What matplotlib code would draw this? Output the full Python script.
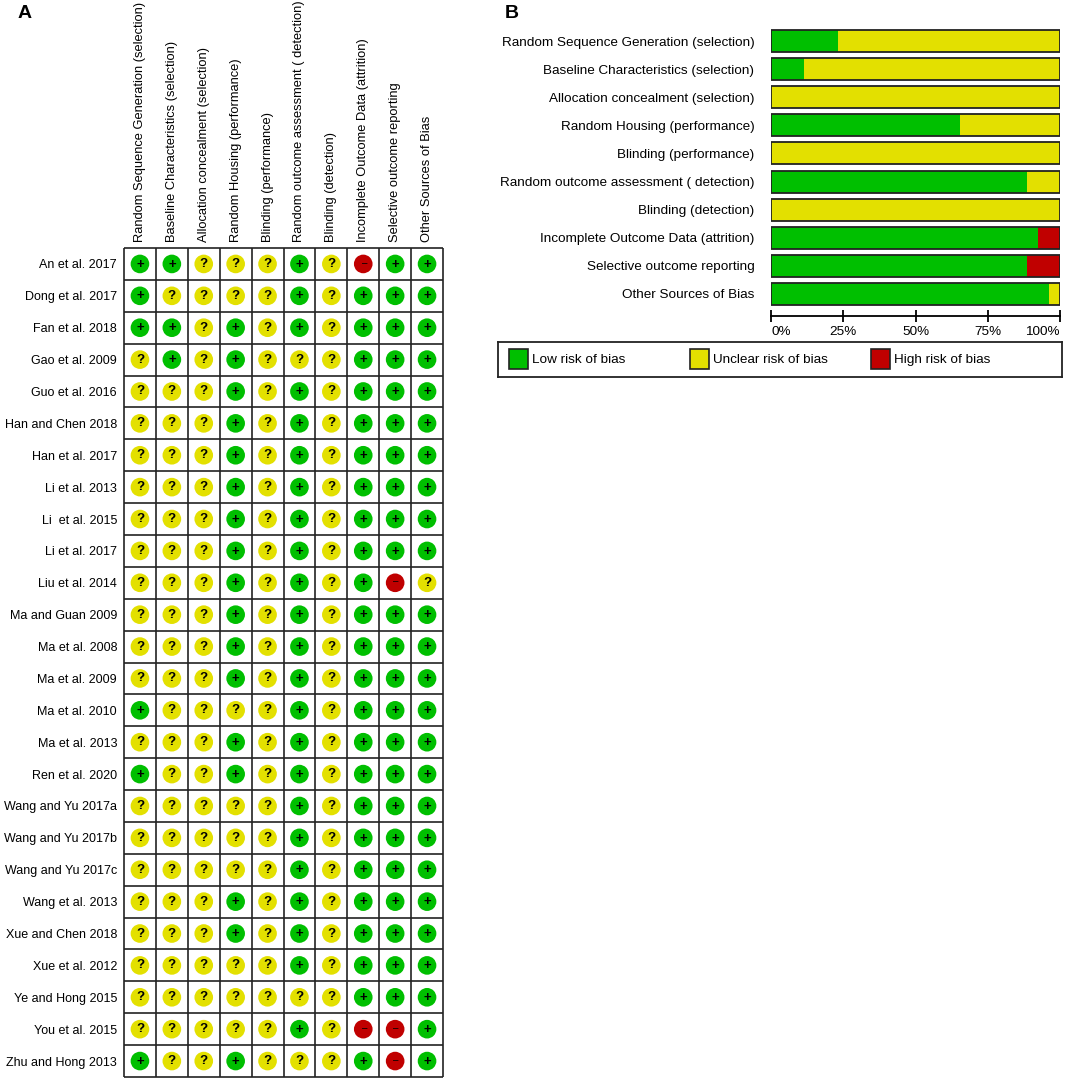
import numpy as np
import matplotlib.pyplot as plt
from matplotlib.patches import Rectangle

plt.rcParams['font.family'] = ['Liberation Sans', 'DejaVu Sans']

# risk of bias domains (columns of panel A, rows of panel B)
domains = [
    'Random Sequence Generation (selection)',
    'Baseline Characteristics (selection)',
    'Allocation concealment (selection)',
    'Random Housing (performance)',
    'Blinding (performance)',
    'Random outcome assessment ( detection)',
    'Blinding (detection)',
    'Incomplete Outcome Data (attrition)',
    'Selective outcome reporting',
    'Other Sources of Bias',
]

studies = [
    'An et al. 2017', 'Dong et al. 2017', 'Fan et al. 2018', 'Gao et al. 2009',
    'Guo et al. 2016', 'Han and Chen 2018', 'Han et al. 2017', 'Li et al. 2013',
    'Li  et al. 2015', 'Li et al. 2017', 'Liu et al. 2014', 'Ma and Guan 2009',
    'Ma et al. 2008', 'Ma et al. 2009', 'Ma et al. 2010', 'Ma et al. 2013',
    'Ren et al. 2020', 'Wang and Yu 2017a', 'Wang and Yu 2017b',
    'Wang and Yu 2017c', 'Wang et al. 2013', 'Xue and Chen 2018',
    'Xue et al. 2012', 'Ye and Hong 2015', 'You et al. 2015', 'Zhu and Hong 2013',
]

# one string per study, one char per domain: + low, ? unclear, - high
ratings = [
    '++???+?-++', '+????+?+++', '++?+?+?+++', '?+?+???+++',
    '???+?+?+++', '???+?+?+++', '???+?+?+++', '???+?+?+++',
    '???+?+?+++', '???+?+?+++', '???+?+?+-?', '???+?+?+++',
    '???+?+?+++', '???+?+?+++', '+????+?+++', '???+?+?+++',
    '+??+?+?+++', '?????+?+++', '?????+?+++', '?????+?+++',
    '???+?+?+++', '???+?+?+++', '?????+?+++', '???????+++',
    '?????+?--+', '+??+???+-+',
]

legend_labels = ['Low risk of bias', 'Unclear risk of bias', 'High risk of bias']

GREEN = '#00bf00'
YELLOW = '#e3e000'
RED = '#c00000'
colors = {'+': GREEN, '?': YELLOW, '-': RED}
LINE = '#222222'

W, H = 1065, 1080
fig = plt.figure(figsize=(W / 100, H / 100), dpi=100)


def px(x0, y0, x1, y1):
    return [x0 / W, 1 - y1 / H, (x1 - x0) / W, (y1 - y0) / H]


# ---- panel A: traffic light grid ----
n_s, n_d = len(studies), len(domains)
ax = fig.add_axes(px(124, 248, 443, 1077))
ax.set_xlim(0, n_d)
ax.set_ylim(n_s, 0)
for s in ax.spines.values():
    s.set_visible(False)
ax.vlines(np.arange(n_d + 1), 0, n_s, color=LINE, lw=1.2, clip_on=False)
ax.hlines(np.arange(n_s + 1), 0, n_d, color=LINE, lw=1.2, clip_on=False)

grid = np.array([list(r) for r in ratings])
for sym, col in colors.items():
    yy, xx = np.where(grid == sym)
    ax.scatter(xx + 0.5, yy + 0.5, s=180, c=col, edgecolors='none', zorder=3)
    for x, y in zip(xx, yy):
        if sym == '+':
            ax.text(x + 0.5, y + 0.52, '+', ha='center', va='center',
                    fontsize=9.5, fontweight='bold', zorder=4)
        elif sym == '?':
            ax.text(x + 0.5, y + 0.5, '?', ha='center', va='center',
                    fontsize=9.5, fontweight='bold', zorder=4)
        else:
            ax.text(x + 0.53, y + 0.46, '\u2013', ha='center', va='center',
                    fontsize=7, color='black', zorder=4)

ax.set_yticks(np.arange(n_s) + 0.5, studies, fontsize=9)
ax.set_xticks([])
ax.tick_params(axis='y', length=0, pad=5)
for i, d in enumerate(domains):
    ax.text(i + 0.5, -0.2, d, rotation=90, ha='center', va='bottom', fontsize=9.3)

# ---- panel B: summary bars ----
low = (grid == '+').mean(axis=0)
unclear = (grid == '?').mean(axis=0)
high = (grid == '-').mean(axis=0)

axb = fig.add_axes(px(771, 27, 1060, 308))
yb = np.arange(n_d)
hb = 0.78
axb.barh(yb, low, height=hb, color=GREEN, lw=0)
axb.barh(yb, unclear, left=low, height=hb, color=YELLOW, lw=0)
axb.barh(yb, high, left=low + unclear, height=hb, color=RED, lw=0)
axb.barh(yb, np.ones(n_d), height=hb, facecolor='none', edgecolor=LINE, lw=1.3)
axb.set_xlim(0, 1)
axb.set_ylim(n_d - 0.5, -0.5)
axb.set_yticks(yb, domains, fontsize=9.7)
axb.tick_params(axis='y', length=0, pad=12)
for k in ['top', 'right', 'left']:
    axb.spines[k].set_visible(False)
axb.spines['bottom'].set_position(('outward', 6))
axb.spines['bottom'].set_linewidth(1.3)
axb.set_xticks([0, 0.25, 0.5, 0.75, 1], ['0%', '25%', '50%', '75%', '100%'], fontsize=9.7)
axb.tick_params(axis='x', direction='inout', length=8, width=1.3, pad=3)
xt = axb.get_xticklabels()
xt[0].set_ha('left')
xt[-1].set_ha('right')

# legend box
axl = fig.add_axes(px(498, 342, 1062, 377))
axl.set_xlim(0, 564)
axl.set_ylim(35, 0)
axl.set_xticks([])
axl.set_yticks([])
for s in axl.spines.values():
    s.set_linewidth(1.3)
    s.set_color(LINE)
for i, (lab, col) in enumerate(zip(legend_labels, [GREEN, YELLOW, RED])):
    x0 = 11 + 181 * i
    axl.add_patch(Rectangle((x0, 7), 19, 20, facecolor=col, edgecolor=LINE, lw=1.2))
    axl.text(x0 + 23, 18, lab, ha='left', va='center', fontsize=9.7)

fig.text(18 / W, 1 - 5 / H, 'A', fontsize=14, fontweight='bold', va='top')
fig.text(505 / W, 1 - 5 / H, 'B', fontsize=14, fontweight='bold', va='top')

fig.savefig('out.png', dpi=100)
